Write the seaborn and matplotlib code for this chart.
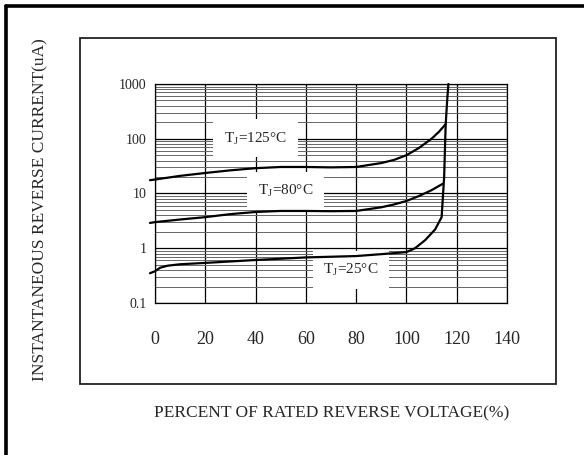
import numpy as np
import pandas as pd
import seaborn as sns
import matplotlib.pyplot as plt
from matplotlib.patches import Rectangle
from matplotlib.lines import Line2D
from matplotlib.ticker import LogLocator, FixedLocator, NullFormatter

# percent of rated reverse voltage vs reverse current (uA)
v_125 = [-2, 0, 10, 20, 30, 40, 50, 60, 70, 80, 90, 95, 100, 105, 110, 113, 115.6]
i_125 = [17.5, 18, 21, 23.7, 26.5, 29, 30.5, 30.5, 30, 30.5, 36, 41, 50, 68, 100, 135, 185]

v_80 = [-2, 0, 10, 20, 30, 40, 50, 60, 70, 80, 90, 95, 100, 105, 110, 114.4]
i_80 = [2.9, 3.0, 3.35, 3.7, 4.2, 4.6, 4.8, 4.8, 4.75, 4.8, 5.6, 6.3, 7.3, 9, 11.5, 15]

v_25 = [-2, 0, 2, 5, 10, 20, 40, 60, 80, 90, 100, 103.4, 107.4, 111.4, 114.0, 115.0, 115.6, 116.2, 116.7]
i_25 = [0.35, 0.38, 0.44, 0.48, 0.51, 0.54, 0.61, 0.68, 0.72, 0.78, 0.85, 1.0, 1.4, 2.2, 3.7, 20, 178, 500, 1000]

x_ticks = [0, 20, 40, 60, 80, 100, 120, 140]
y_ticks = [0.1, 1, 10, 100, 1000]
y_tick_labels = ["0.1", "1", "10", "100", "1000"]

curve_labels = ["T$_\\mathregular{J}$=125°C", "T$_\\mathregular{J}$=80°C", "T$_\\mathregular{J}$=25°C"]
label_pos = [(40, 102), (52, 11.1), (78, 0.40)]

df = pd.concat([
    pd.DataFrame({"v": v_125, "i": i_125, "curve": "125"}),
    pd.DataFrame({"v": v_80, "i": i_80, "curve": "80"}),
    pd.DataFrame({"v": v_25, "i": i_25, "curve": "25"}),
])

sns.set_style("white")
plt.rcParams["font.family"] = ["Liberation Serif", "DejaVu Serif"]
plt.rcParams["mathtext.fontset"] = "custom"
plt.rcParams["mathtext.rm"] = "Liberation Serif"
text_color = "#262626"

fig = plt.figure(figsize=(5.84, 4.55), dpi=100)
ax = fig.add_axes([155 / 584, 1 - 303 / 455, 352 / 584, 219 / 455])

for name, part in df.groupby("curve", sort=False):
    sns.lineplot(data=part, x="v", y="i", ax=ax, color="black", linewidth=1.6,
                 sort=False, estimator=None, clip_on=False, zorder=5)

ax.set_yscale("log")
ax.set_xlim(0, 140)
ax.set_ylim(0.1, 1000)

ax.xaxis.set_major_locator(FixedLocator(x_ticks))
ax.set_xticklabels([str(t) for t in x_ticks])
ax.yaxis.set_major_locator(FixedLocator(y_ticks))
ax.set_yticklabels(y_tick_labels)
ax.yaxis.set_minor_locator(LogLocator(base=10, subs=np.arange(2, 10)))
ax.yaxis.set_minor_formatter(NullFormatter())

ax.grid(True, which="major", axis="both", color="black", linewidth=0.9)
ax.grid(True, which="minor", axis="y", color="#666666", linewidth=0.7)
ax.tick_params(axis="both", which="both", length=0, labelcolor=text_color)
ax.tick_params(axis="x", labelsize=13, pad=20)
ax.tick_params(axis="y", labelsize=10, pad=6)
for s in ax.spines.values():
    s.set_color("black")
    s.set_linewidth(0.9)
ax.set_xlabel("")
ax.set_ylabel("")

for txt, (x, y) in zip(curve_labels, label_pos):
    ax.text(x, y, txt, fontsize=11, ha="center", va="center", zorder=4, color=text_color,
            bbox=dict(boxstyle="square,pad=0.7", facecolor="white", edgecolor="none"))

# inner frame and outer frame
fig.patches.append(Rectangle((80 / 584, 1 - 384 / 455), 476 / 584, 346 / 455,
                             transform=fig.transFigure, fill=False,
                             edgecolor="#222222", linewidth=1.3))
fig.lines.append(Line2D([5.5 / 584, 5.5 / 584], [0, 1 - 5.5 / 455], transform=fig.transFigure,
                        color="black", linewidth=2.6))
fig.lines.append(Line2D([5.5 / 584, 1], [1 - 5.5 / 455, 1 - 5.5 / 455], transform=fig.transFigure,
                        color="black", linewidth=2.6))

fig.text(332 / 584, 1 - 413 / 455, "PERCENT OF RATED REVERSE VOLTAGE(%)",
         fontsize=12.5, ha="center", va="center", color=text_color)
fig.text(40 / 584, 1 - 210 / 455, "INSTANTANEOUS REVERSE CURRENT(uA)",
         fontsize=12.5, ha="center", va="center", rotation=90, color=text_color)

fig.savefig("out.png", dpi=100)
